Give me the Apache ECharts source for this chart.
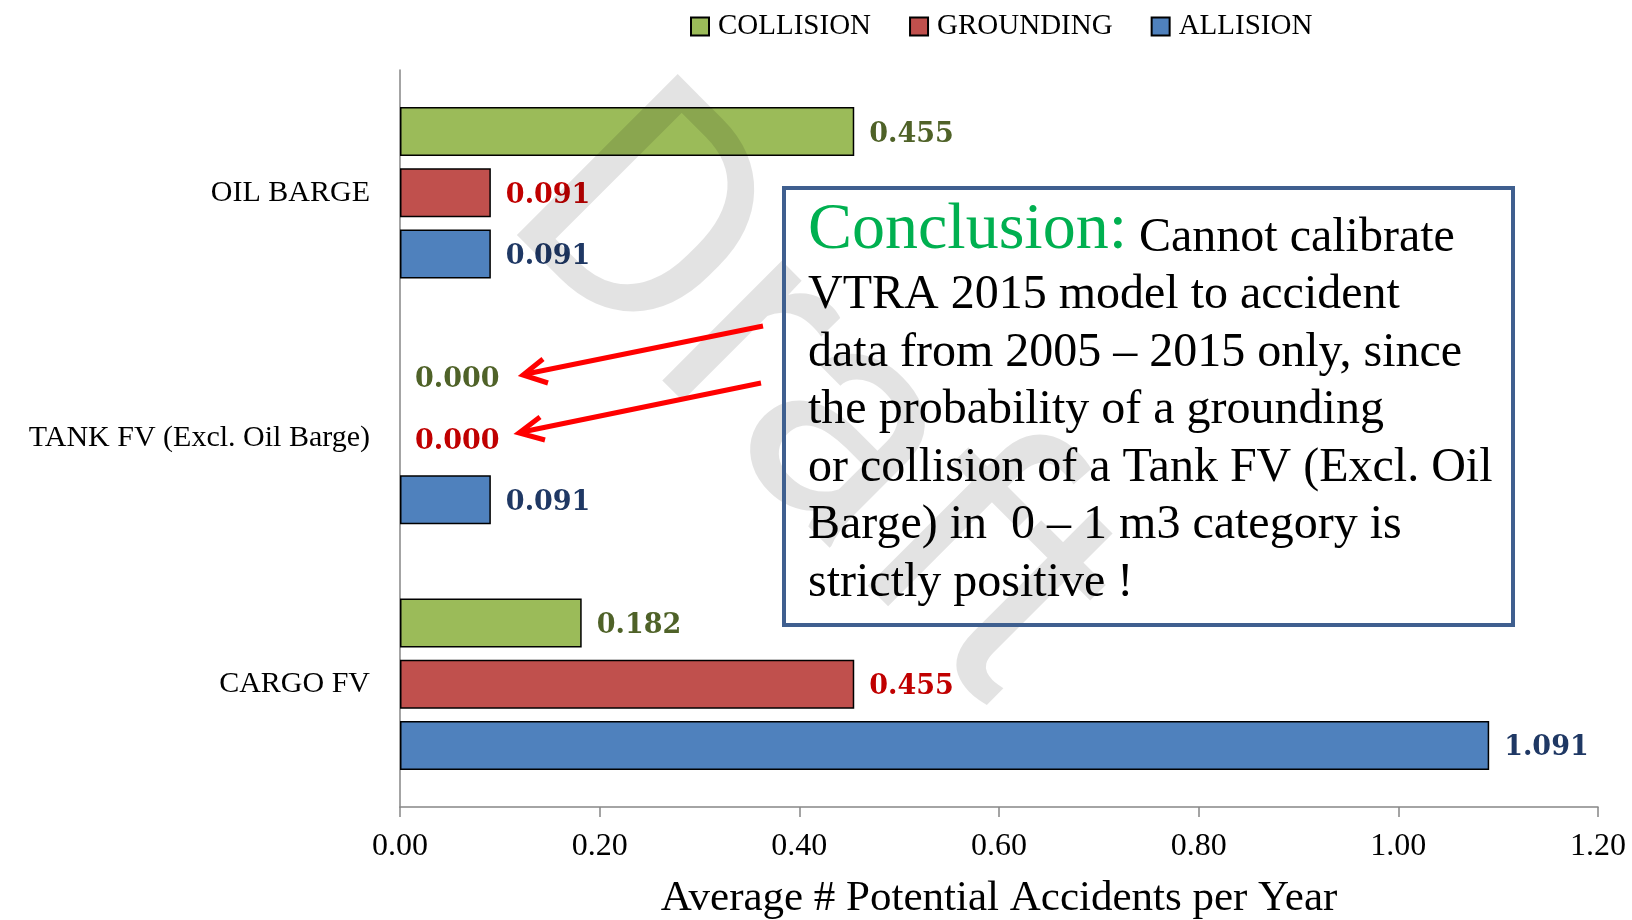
<!DOCTYPE html>
<html>
<head>
<meta charset="utf-8">
<script src="https://cdn.jsdelivr.net/npm/echarts@6/dist/echarts.min.js"></script>
<style>html,body{margin:0;padding:0;background:#fff}#chart{width:1632px;height:920px}</style>
</head>
<body>
<div id="chart"></div>
<script>
const categories = ['OIL BARGE', 'TANK FV (Excl. Oil Barge)', 'CARGO FV'];
const seriesNames = ['COLLISION', 'GROUNDING', 'ALLISION'];
const collision = [0.455, 0.000, 0.182];
const grounding = [0.091, 0.000, 0.455];
const allision = [0.091, 0.091, 1.091];
const xTicks = [0, 0.2, 0.4, 0.6, 0.8, 1.0, 1.2];
const axisTitle = 'Average # Potential Accidents per Year';

const SERIF = '"Liberation Serif", "DejaVu Serif", serif';
const fills = ['#9BBB59', '#C0504D', '#4F81BD'];
const labelColors = ['#4F6228', '#C00000', '#1F3864'];
const values = [collision, grounding, allision];

function mkSeries(i) {
  return {
    name: seriesNames[i],
    type: 'bar',
    barWidth: 49,
    barGap: '25%',
    data: values[i].map(v => ({ value: v, itemStyle: { borderWidth: v === 0 ? 0 : 1.5 } })),
    itemStyle: { color: fills[i], borderColor: '#000', borderWidth: 1.5 },
    label: {
      show: true, position: 'right', distance: 15, offset: [0, 3],
      formatter: p => Number(p.value).toFixed(3),
      fontFamily: '"DejaVu Serif", serif', fontWeight: 'bold', fontSize: 27,
      color: labelColors[i]
    },
    emphasis: { disabled: true },
    z: 2
  };
}

const chart = echarts.init(document.getElementById('chart'), null, { renderer: 'canvas' });
chart.setOption({
  animation: false,
  backgroundColor: '#fff',
  legend: {
    data: seriesNames,
    left: 690, top: 12, padding: 0,
    icon: 'rect', itemWidth: 18, itemHeight: 18, itemGap: 38,
    textStyle: { fontFamily: SERIF, fontSize: 29, color: '#000', padding: [0, 0, 0, 4] },
    selectedMode: false
  },
  grid: { left: 400, right: 34, top: 70, bottom: 113, containLabel: false, outerBoundsMode: 'none' },
  xAxis: {
    type: 'value', min: xTicks[0], max: xTicks[xTicks.length - 1], interval: 0.2,
    name: axisTitle, nameLocation: 'middle', nameGap: 70,
    nameTextStyle: { fontFamily: SERIF, fontSize: 43, color: '#000' },
    axisLine: { show: true, lineStyle: { color: '#868686', width: 1.5 } },
    axisTick: { show: true, length: 10, lineStyle: { color: '#868686', width: 1.5 } },
    axisLabel: { formatter: v => v.toFixed(2), fontFamily: SERIF, fontSize: 32, color: '#000', margin: 24 },
    splitLine: { show: false }
  },
  yAxis: {
    type: 'category', data: categories, inverse: true,
    axisLine: { show: true, lineStyle: { color: '#868686', width: 1.5 } },
    axisTick: { show: false },
    axisLabel: { fontFamily: SERIF, fontSize: 30, color: '#000', margin: 30 },
    splitLine: { show: false }
  },
  series: [mkSeries(0), mkSeries(1), mkSeries(2)],
  graphic: [
    {
      type: 'text', x: 803, y: 408, rotation: -Math.PI / 4, z: 50, silent: true,
      style: { text: 'Draft', fontFamily: 'Roboto, sans-serif', fontSize: 320,
        fill: 'rgba(0,0,0,0.11)', align: 'center', verticalAlign: 'middle' }
    },
    {
      type: 'rect', z: 60, silent: true,
      shape: { x: 784, y: 188, width: 729, height: 437 },
      style: { fill: 'transparent', stroke: '#3F5F8F', lineWidth: 4 }
    },
    {
      type: 'text', x: 808, y: 231, z: 61, silent: true,
      style: {
        text: '{g|Conclusion:}{b| Cannot calibrate}',
        verticalAlign: 'middle', align: 'left',
        rich: {
          g: { fontFamily: SERIF, fontSize: 66, lineHeight: 66, fill: '#00B050', verticalAlign: 'bottom' },
          b: { fontFamily: SERIF, fontSize: 48, lineHeight: 48, fill: '#000', verticalAlign: 'bottom', padding: [0, 0, 2, 0] }
        }
      }
    },
    {
      type: 'text', x: 808, y: 267, z: 61, silent: true,
      style: {
        text: 'VTRA 2015 model to accident\ndata from 2005 \u2013 2015 only, since\nthe probability of a grounding\nor collision of a Tank FV (Excl. Oil\nBarge) in  0 \u2013 1 m3 category is\nstrictly positive !',
        fontFamily: SERIF, fontSize: 48, lineHeight: 57.5, fill: '#000',
        align: 'left', verticalAlign: 'top'
      }
    },
    { type: 'polyline', z: 70, silent: true, shape: { points: [[763, 326], [526, 374]] },
      style: { stroke: '#FF0000', lineWidth: 5, fill: null } },
    { type: 'polyline', z: 70, silent: true, shape: { points: [[543, 359], [523, 375], [548, 383]] },
      style: { stroke: '#FF0000', lineWidth: 5, fill: null, lineJoin: 'miter' } },
    { type: 'polyline', z: 70, silent: true, shape: { points: [[761, 383], [522, 432]] },
      style: { stroke: '#FF0000', lineWidth: 5, fill: null } },
    { type: 'polyline', z: 70, silent: true, shape: { points: [[540, 417], [519, 433], [545, 440]] },
      style: { stroke: '#FF0000', lineWidth: 5, fill: null, lineJoin: 'miter' } }
  ]
});
</script>
</body>
</html>
